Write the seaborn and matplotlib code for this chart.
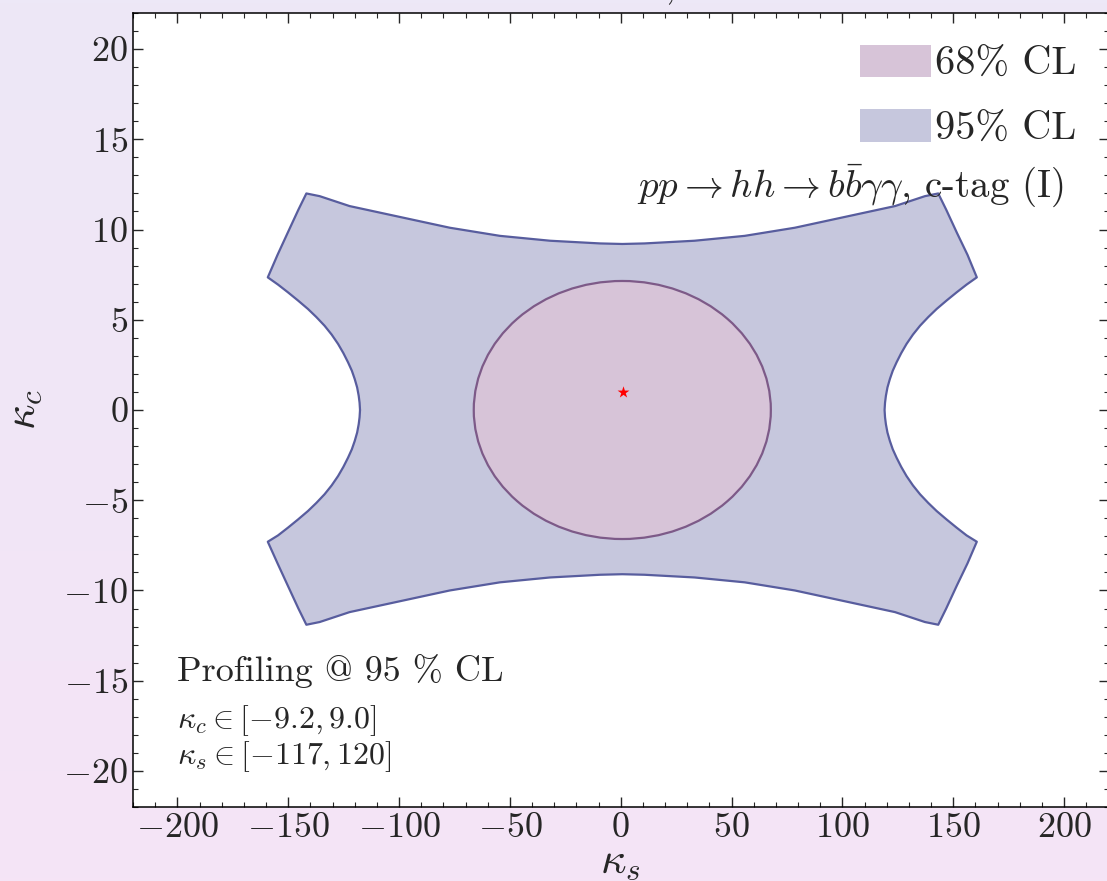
import numpy as np
import matplotlib
matplotlib.use('Agg')
import matplotlib.pyplot as plt
import seaborn as sns
from matplotlib.patches import Ellipse, Patch
from matplotlib.ticker import MultipleLocator

# 95% CL outline (clockwise from the left inner vertex)
ks_95 = [-117.6, -117.8, -118.2, -118.9, -120.0, -121.3, -123.0, -125.1, -127.5, -130.4,
         -133.6, -137.3, -141.1, -145.6, -150.1, -154.6, -159.2,
         -154.8, -150.3, -145.4, -141.8, -135.8, -122.3, -99.7, -77.1, -54.5, -31.9, -9.3,
         0.7, 10.7, 33.3, 55.9, 78.5, 101.1, 123.7, 137.2, 143.2, 146.8, 151.7, 156.4,
         160.6, 156.0, 151.5, 147.0, 142.5, 138.7, 135.0, 131.8, 128.9, 126.5, 124.4,
         122.7, 121.4, 120.3, 119.6, 119.2, 119.0,
         119.2, 119.6, 120.3, 121.4, 122.7, 124.4, 126.5, 128.9, 131.8, 135.0, 138.7,
         142.5, 147.0, 151.5, 156.0, 160.6,
         156.4, 151.7, 146.8, 143.2, 137.2, 123.7, 101.1, 78.5, 55.9, 33.3, 10.7,
         0.7, -9.3, -31.9, -54.5, -77.1, -99.7, -122.3, -135.8, -141.8, -145.4, -150.3,
         -154.8, -159.2, -154.6, -150.1, -145.6, -141.1, -137.3, -133.6, -130.4, -127.5,
         -125.1, -123.0, -121.3, -120.0, -118.9, -118.2, -117.8, -117.6]
kc_95 = [0.0, 0.4, 0.79, 1.25, 1.72, 2.18, 2.64, 3.15, 3.66, 4.18,
         4.67, 5.15, 5.6, 6.07, 6.52, 6.95, 7.35,
         8.6, 9.8, 11.1, 12.0, 11.85, 11.3, 10.7, 10.1, 9.65, 9.38, 9.23,
         9.2, 9.23, 9.38, 9.65, 10.1, 10.7, 11.3, 11.85, 12.0, 11.1, 9.8, 8.6,
         7.35, 6.95, 6.52, 6.07, 5.6, 5.15, 4.67, 4.18, 3.66, 3.15, 2.64,
         2.18, 1.72, 1.25, 0.79, 0.4, 0.0,
         -0.4, -0.79, -1.25, -1.72, -2.18, -2.64, -3.15, -3.66, -4.18, -4.67, -5.15,
         -5.6, -6.07, -6.52, -6.95, -7.3,
         -8.5, -9.7, -11.0, -11.9, -11.75, -11.2, -10.6, -10.0, -9.55, -9.28, -9.13,
         -9.1, -9.13, -9.28, -9.55, -10.0, -10.6, -11.2, -11.75, -11.9, -11.0, -9.7,
         -8.5, -7.3, -6.95, -6.52, -6.07, -5.6, -5.15, -4.67, -4.18, -3.66,
         -3.15, -2.64, -2.18, -1.72, -1.25, -0.79, -0.4, 0.0]

# 68% CL ellipse: centre and full widths
center_68 = (0.7, 0.0)
width_68 = 134.0
height_68 = 14.3

best_fit = ([1.0], [1.0])

x_ticks = [-200, -150, -100, -50, 0, 50, 100, 150, 200]
y_ticks = [-20, -15, -10, -5, 0, 5, 10, 15, 20]

fill_95, edge_95 = '#c6c7dd', '#585d9e'
fill_68, edge_68 = '#d7c4d8', '#7d5a88'

sns.set_theme(style='ticks')
plt.rcParams.update({
    'font.family': 'serif',
    'font.serif': ['cmr10'],
    'mathtext.fontset': 'cm',
    'axes.formatter.use_mathtext': True,
    'axes.unicode_minus': True,
    'xtick.direction': 'in', 'ytick.direction': 'in',
    'xtick.top': True, 'ytick.right': True,
})

fig = plt.figure(figsize=(11.07, 8.81), dpi=100)

# soft lavender -> pink backdrop
bg = fig.add_axes([0, 0, 1, 1], zorder=-10)
grad = np.linspace(0, 1, 256)[:, None]
top_c = np.array([237, 232, 247]) / 255
bot_c = np.array([245, 228, 246]) / 255
img = top_c[None, None, :] * (1 - grad[..., None]) + bot_c[None, None, :] * grad[..., None]
bg.imshow(img, aspect='auto', extent=[0, 1, 0, 1])
bg.axis('off')

ax = fig.add_axes([133 / 1107, 1 - 807 / 881, (1108.5 - 133) / 1107, (807 - 13) / 881])
ax.set_facecolor('white')

ax.fill(ks_95, kc_95, color=fill_95, lw=0, zorder=1)
sns.lineplot(x=ks_95, y=kc_95, sort=False, estimator=None, color=edge_95, lw=1.6, ax=ax, zorder=2)
ax.add_patch(Ellipse(center_68, width_68, height_68, facecolor=fill_68, edgecolor=edge_68,
                     lw=1.6, zorder=3))
sns.scatterplot(x=best_fit[0], y=best_fit[1], marker='*', color='red', s=80, linewidth=0,
                ax=ax, zorder=4)

ax.set_xlim(-220, 220)
ax.set_ylim(-22, 22)
ax.set_xticks(x_ticks)
ax.set_yticks(y_ticks)
ax.xaxis.set_minor_locator(MultipleLocator(10))
ax.yaxis.set_minor_locator(MultipleLocator(1))
ax.tick_params(which='major', length=7, width=1.0, labelsize=26)
ax.tick_params(which='minor', length=3.5, width=0.8)
for s in ax.spines.values():
    s.set_linewidth(1.1)
    s.set_color('black')

ax.set_xlabel(r'$\kappa_s$', fontsize=32, labelpad=-1)
ax.set_ylabel(r'$\kappa_c$', fontsize=32, labelpad=14)

# title sits mostly above the visible area, as in the source crop
ax.set_title(r'$\sqrt{s}=14$ TeV, $3$ ab$^{-1}$', fontsize=28, pad=10.5)

handles = [Patch(facecolor=fill_68, edgecolor='none', label='68% CL'),
           Patch(facecolor=fill_95, edgecolor='none', label='95% CL')]
ax.legend(handles=handles, loc='upper right', frameon=False, fontsize=29,
          handlelength=1.75, handleheight=0.85, handletextpad=0.1, labelspacing=0.65,
          borderaxespad=0.4)

ax.text(200, 11.8, r'$pp \to hh \to b\bar{b}\gamma\gamma$, c-tag (I)', fontsize=28,
        ha='right', va='baseline')
ax.text(-200, -15.0, 'Profiling @ 95 % CL', fontsize=26, ha='left', va='baseline')
ax.text(-200, -17.6, r'$\kappa_c \in [-9.2, 9.0]$', fontsize=23, ha='left', va='baseline')
ax.text(-200, -19.6, r'$\kappa_s \in [-117, 120]$', fontsize=23, ha='left', va='baseline')

fig.savefig('out.png', dpi=100)
